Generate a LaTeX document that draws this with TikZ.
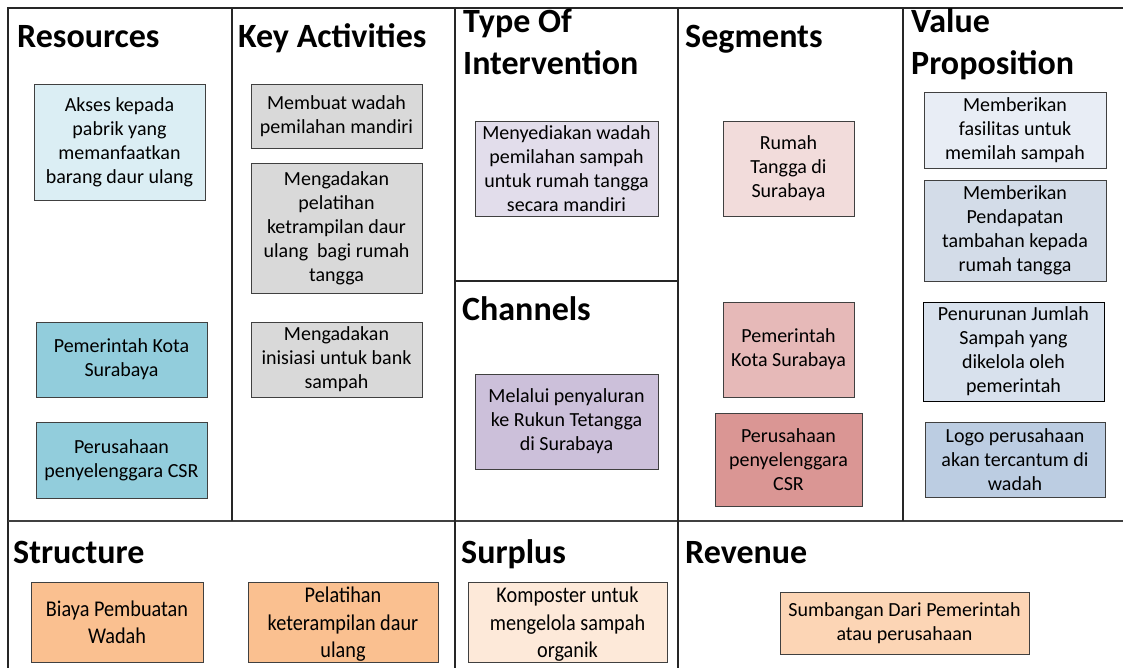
\documentclass[tikz,border=0pt]{standalone}
\usepackage{fontspec}
\setmainfont{Carlito}
\newfontfamily\narrowfont[FakeStretch=0.9]{Carlito}
\begin{document}
\begin{tikzpicture}[x=1pt,y=-1pt,
  frame/.style={line width=1.1pt, draw=black!85},
  card/.style={draw=black!75, line width=0.9pt, inner sep=0pt, align=center,
    font=\fontsize{20}{24}\selectfont},
  lowcard/.style={card, font=\narrowfont\fontsize{22.5}{27.5}\selectfont},
  lowtext/.style={text depth=-3pt},
  title/.style={anchor=base west, inner sep=0pt, align=left,
    font=\fontsize{34}{42}\selectfont\bfseries}
]
\useasboundingbox (0,0) rectangle (1123,668);
\definecolor{resL}{HTML}{DBEEF4}
\definecolor{resD}{HTML}{92CDDC}
\definecolor{actG}{HTML}{D9D9D9}
\definecolor{typL}{HTML}{E2DDEB}
\definecolor{chnD}{HTML}{CCC0DA}
\definecolor{segA}{HTML}{F2DCDB}
\definecolor{segB}{HTML}{E6B9B8}
\definecolor{segC}{HTML}{DA9694}
\definecolor{valA}{HTML}{E8EDF5}
\definecolor{valB}{HTML}{D3DCE8}
\definecolor{valC}{HTML}{D8E1ED}
\definecolor{valD}{HTML}{BCCDE2}
\definecolor{costD}{HTML}{FAC090}
\definecolor{surL}{HTML}{FDE9D9}
\definecolor{revL}{HTML}{FCD5B5}

% grid of the canvas
\coordinate (tl) at (8,8);
\coordinate (tr) at (1123,8);
\coordinate (bl) at (8,668);
\coordinate (ml) at (8,521);
\coordinate (mr) at (1123,521);
\draw[frame] (tr) -- (tl) -- (bl);
\draw[frame, line width=1.6pt, draw=black!75] (ml) -- (mr);
\foreach \x/\n in {232/a,455/b,678/c,903/d}{
  \coordinate (top\n) at (\x,8);
  \coordinate (mid\n) at (\x,521);
  \draw[frame] (top\n) -- (mid\n);
}
\coordinate (chL) at (455,281);
\coordinate (chR) at (678,281);
\draw[frame] (chL) -- (chR);
\foreach \x/\n in {455/b,678/c}{
  \coordinate (bot\n) at (\x,668);
  \draw[frame] (mid\n) -- (bot\n);
}

% section titles (multi-line titles sit on the baseline of their last line)
\node[title] (tRes) at (17,48) {Resources};
\node[title] (tAct) at (238,48) {Key Activities};
\node[title] (tType) at (463,75) {Type Of\\Intervention};
\node[title] (tSeg) at (685,48) {Segments};
\node[title] (tVal) at (911,75) {Value\\Proposition};
\node[title] (tChn) at (462,320) {Channels};
\node[title] (tStr) at (13,563) {Structure};
\node[title] (tSur) at (461,563) {Surplus};
\node[title] (tRev) at (685,563) {Revenue};

% Resources
\node[card, fill=resL, minimum width=171, minimum height=116] (r1) at (119.5,142)
  {Akses kepada\\pabrik yang\\memanfaatkan\\barang daur ulang};
\node[card, fill=resD, minimum width=171, minimum height=75] (r2) at (121.5,359.5)
  {Pemerintah Kota\\Surabaya};
\node[card, fill=resD, minimum width=171, minimum height=76] (r3) at (121.5,460)
  {Perusahaan\\penyelenggara CSR};

% Key Activities
\node[card, fill=actG, minimum width=171, minimum height=64] (k1) at (336.5,116)
  {Membuat wadah\\pemilahan mandiri};
\node[card, fill=actG, minimum width=171, minimum height=130] (k2) at (336.5,228)
  {Mengadakan\\pelatihan\\ketrampilan daur\\ulang\ \ bagi rumah\\tangga};
\node[card, fill=actG, minimum width=171, minimum height=75] (k3) at (336.5,359.5)
  {Mengadakan\\inisiasi untuk bank\\sampah};

% Type of intervention / Channels
\node[card, fill=typL, minimum width=183, minimum height=95] (i1) at (566.5,168.5)
  {Menyediakan wadah\\pemilahan sampah\\untuk rumah tangga\\secara mandiri};
\node[card, fill=chnD, minimum width=183, minimum height=95] (c1) at (566.5,421.5)
  {Melalui penyaluran\\ke Rukun Tetangga\\di Surabaya};

% Segments
\node[card, fill=segA, minimum width=131, minimum height=95] (s1) at (788.5,168.5)
  {Rumah\\Tangga di\\Surabaya};
\node[card, fill=segB, minimum width=131, minimum height=95] (s2) at (788.5,349.5)
  {Pemerintah\\Kota Surabaya};
\node[card, fill=segC, minimum width=147, minimum height=93] (s3) at (788.5,459.5)
  {Perusahaan\\penyelenggara\\CSR};

% Value proposition
\node[card, fill=valA, minimum width=182, minimum height=76] (v1) at (1015,130)
  {Memberikan\\fasilitas untuk\\memilah sampah};
\node[card, fill=valB, minimum width=182, minimum height=101] (v2) at (1015,230.5)
  {Memberikan\\Pendapatan\\tambahan kepada\\rumah tangga};
\node[card, fill=valC, draw=black, minimum width=181, minimum height=99] (v3) at (1013.5,351.5)
  {Penurunan Jumlah\\Sampah yang\\dikelola oleh\\pemerintah};
\node[card, fill=valD, minimum width=180, minimum height=75] (v4) at (1015,459.5)
  {Logo perusahaan\\akan tercantum di\\wadah};

% Structure / Surplus / Revenue
\node[lowcard, fill=costD, minimum width=172, minimum height=80] (b1) at (117,622.5)
  {Biaya Pembuatan\\Wadah};
\node[lowcard, lowtext, fill=costD, minimum width=190, minimum height=80] (b2) at (343,622.5)
  {Pelatihan\\keterampilan daur\\ulang};
\node[lowcard, lowtext, fill=surL, minimum width=199, minimum height=80] (p1) at (567.5,622.5)
  {Komposter untuk\\mengelola sampah\\organik};
\node[card, fill=revL, minimum width=249, minimum height=62] (rv1) at (904.5,623)
  {Sumbangan Dari Pemerintah\\atau perusahaan};
\end{tikzpicture}
\end{document}
